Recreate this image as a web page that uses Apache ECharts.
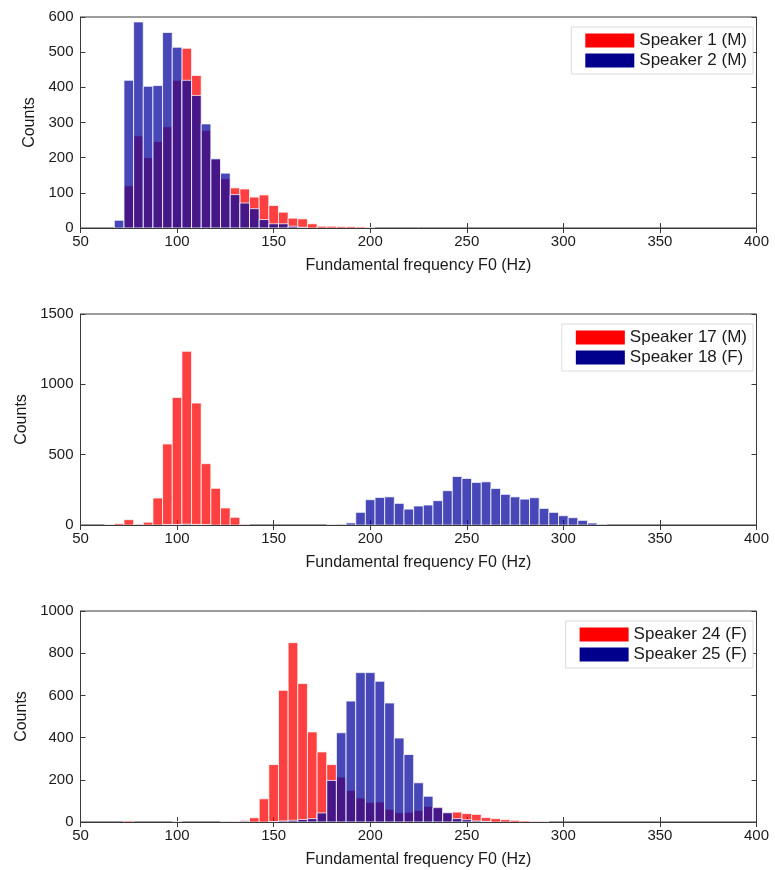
<!DOCTYPE html>
<html>
<head>
<meta charset="utf-8">
<script src="https://cdn.jsdelivr.net/npm/echarts@6/dist/echarts.min.js"></script>
<style>
html,body{margin:0;padding:0;background:#fff;}
#chart{width:775px;height:870px;}
</style>
</head>
<body>
<div id="chart"></div>
<script>
// ---------- DATA ----------
var xTicks = [50, 100, 150, 200, 250, 300, 350, 400];
var binWidthHz = 5;

// Panel 1
var p1Names = ['Speaker 1 (M)', 'Speaker 2 (M)'];
var p1Bins = [70,75,80,85,90,95,100,105,110,115,120,125,130,135,140,145,150,155,160,165,170,175,180,185,190,195,200];
var spk1 =   [0,120,262,200,246,288,420,511,434,277,195,140,114,111,88,94,64,45,28,26,12,5,5,4,4,3,1];
var spk2 =   [22,420,586,403,405,556,514,420,377,296,197,156,95,71,55,24,12,12,5,2,0,0,0,0,0,0,0];

// Panel 2
var p2Names = ['Speaker 17 (M)', 'Speaker 18 (F)'];
var spk17Bins = [65,70,75,80,85,90,95,100,105,110,115,120,125,130,135];
var spk17 =     [3,10,38,5,20,192,576,907,1235,867,436,261,121,55,5];
var spk18Bins = [95,100,105,110,115,180,185,190,195,200,205,210,215,220,225,230,235,240,245,250,255,260,265,270,275,280,285,290,295,300,305,310,315,320];
var spk18 =     [2,4,6,4,2,3,5,15,90,180,196,200,154,113,135,142,173,244,345,331,303,307,260,218,200,184,194,118,90,66,52,33,14,5];

// Panel 3
var p3Names = ['Speaker 24 (F)', 'Speaker 25 (F)'];
var spk24Bins = [75,130,135,140,145,150,155,160,165,170,175,180,185,190,195,200,205,210,215,220,225,230,235,240,245,250,255,260,265,270,275,280,285,290];
var spk24 =     [5,3,8,20,110,272,624,850,656,427,332,272,213,150,114,92,95,60,44,46,55,74,71,44,47,40,36,21,16,11,8,5,3,2];
var spk25Bins = [100,125,135,150,155,160,165,170,175,180,185,190,195,200,205,210,215,220,225,230,235,240,245,250,255,260];
var spk25 =     [2,3,4,2,5,8,12,16,43,197,423,573,708,708,667,564,398,320,186,122,68,44,16,11,5,3];

var yTicks1 = [0,100,200,300,400,500,600];
var yTicks2 = [0,500,1000,1500];
var yTicks3 = [0,200,400,600,800,1000];

// ---------- STYLE ----------
var FONT = "'Liberation Sans', Arial, Helvetica, sans-serif";
var RED_FILL = 'rgba(255,0,0,0.75)';
var BLUE_FILL = 'rgba(10,10,160,0.75)';
var RED_SOLID = '#ff0000';
var BLUE_SOLID = '#00008c';

function zip(xs, ys){ var out=[]; for (var i=0;i<xs.length;i++) out.push([xs[i], ys[i]]); return out; }

function makeRender(fill){
  return function(params, api){
    var x = api.value(0), y = api.value(1);
    if (!(y > 0)) return null;
    var p0 = api.coord([x - binWidthHz/2, y]);
    var p1 = api.coord([x + binWidthHz/2, 0]);
    return {
      type: 'rect',
      shape: {x: p0[0], y: p0[1], width: p1[0]-p0[0], height: p1[1]-p0[1]},
      style: {fill: fill, stroke: 'rgba(255,255,255,0.75)', lineWidth: 1}
    };
  };
}

var gridTops = [17, 314, 611];
var gridH = 211;
var yTickSets = [yTicks1, yTicks2, yTicks3];

var grids = [], xAxes = [], yAxes = [], series = [], legends = [];
var panels = [
  {names: p1Names, red: zip(p1Bins, spk1), blue: zip(p1Bins, spk2)},
  {names: p2Names, red: zip(spk17Bins, spk17), blue: zip(spk18Bins, spk18)},
  {names: p3Names, red: zip(spk24Bins, spk24), blue: zip(spk25Bins, spk25)}
];
function plain(v){ return String(v); }

panels.forEach(function(p, i){
  var yt = yTickSets[i];
  var yMin = yt[0], yMax = yt[yt.length-1], yStep = yt[1]-yt[0];
  grids.push({left: 80.5, right: 18.5, top: gridTops[i], height: gridH,
    show: true, borderColor: '#3a3a3a', borderWidth: 1, backgroundColor: '#fff'});
  xAxes.push({type: 'value', gridIndex: i, min: xTicks[0], max: xTicks[xTicks.length-1], interval: xTicks[1]-xTicks[0],
    position: 'bottom',
    axisLine: {show: true, onZero: false, lineStyle: {color: '#3a3a3a'}},
    axisTick: {show: true, inside: true, length: 5, lineStyle: {color: '#3a3a3a'}},
    axisLabel: {color: '#1a1a1a', fontSize: 15, fontFamily: FONT, margin: 6, formatter: plain},
    splitLine: {show: false},
    name: 'Fundamental frequency F0 (Hz)', nameLocation: 'middle', nameGap: 30,
    nameTextStyle: {color: '#1a1a1a', fontSize: 16, fontFamily: FONT}
  });
  xAxes.push({type: 'value', gridIndex: i, min: xTicks[0], max: xTicks[xTicks.length-1], interval: xTicks[1]-xTicks[0],
    position: 'top',
    axisLine: {show: false},
    axisTick: {show: true, inside: true, length: 5, lineStyle: {color: '#3a3a3a'}},
    axisLabel: {show: false}, splitLine: {show: false}
  });
  yAxes.push({type: 'value', gridIndex: i, min: yMin, max: yMax, interval: yStep,
    position: 'left',
    axisLine: {show: true, lineStyle: {color: '#3a3a3a'}},
    axisTick: {show: true, inside: true, length: 5, lineStyle: {color: '#3a3a3a'}},
    axisLabel: {color: '#1a1a1a', fontSize: 15, fontFamily: FONT, margin: 7, formatter: plain},
    splitLine: {show: false},
    name: 'Counts', nameLocation: 'middle', nameGap: 39, nameRotate: 90,
    nameTextStyle: {color: '#1a1a1a', fontSize: 16, fontFamily: FONT}
  });
  yAxes.push({type: 'value', gridIndex: i, min: yMin, max: yMax, interval: yStep,
    position: 'right',
    axisLine: {show: false},
    axisTick: {show: true, inside: true, length: 5, lineStyle: {color: '#3a3a3a'}},
    axisLabel: {show: false}, splitLine: {show: false}
  });
  series.push({type: 'custom', name: p.names[0], xAxisIndex: 2*i, yAxisIndex: 2*i,
    renderItem: makeRender(RED_FILL), data: p.red, clip: true,
    itemStyle: {color: RED_SOLID}, encode: {x: 0, y: 1}, silent: true, z: 2});
  series.push({type: 'custom', name: p.names[1], xAxisIndex: 2*i, yAxisIndex: 2*i,
    renderItem: makeRender(BLUE_FILL), data: p.blue, clip: true,
    itemStyle: {color: BLUE_SOLID}, encode: {x: 0, y: 1}, silent: true, z: 3});
  legends.push({
    data: [{name: p.names[0], itemStyle: {color: RED_SOLID}}, {name: p.names[1], itemStyle: {color: BLUE_SOLID}}],
    orient: 'vertical', right: 22, top: gridTops[i] + 10,
    icon: 'rect', itemWidth: 49, itemHeight: 14, itemGap: 3,
    selectedMode: false,
    backgroundColor: '#fff', borderColor: '#dcdcdc', borderWidth: 1,
    padding: [5, 6, 5, 14],
    textStyle: {color: '#1a1a1a', fontSize: 17, fontFamily: FONT}
  });
});

var chart = echarts.init(document.getElementById('chart'), null, {renderer: 'canvas'});
chart.setOption({
  backgroundColor: '#fff',
  animation: false,
  grid: grids,
  xAxis: xAxes,
  yAxis: yAxes,
  legend: legends,
  series: series
});
</script>
</body>
</html>
